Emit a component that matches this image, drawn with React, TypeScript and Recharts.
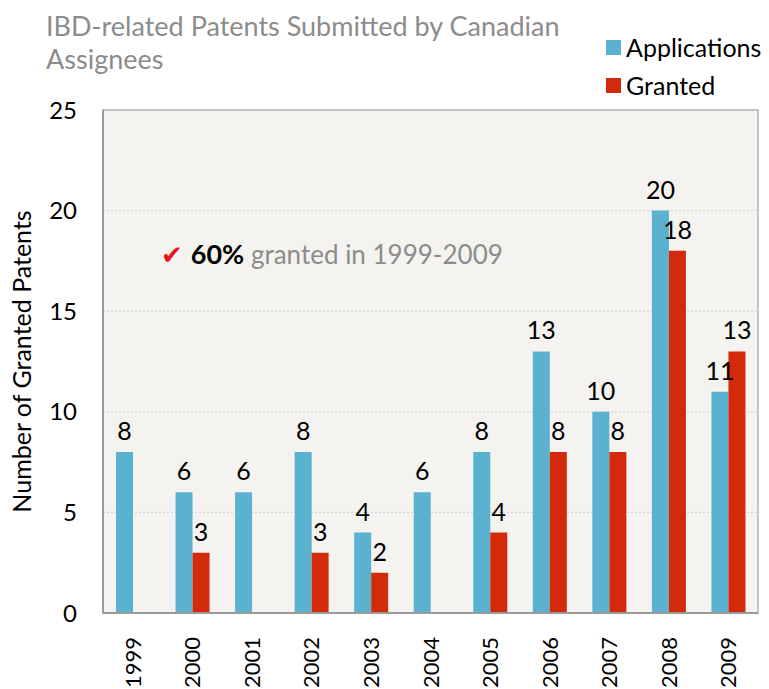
import { BarChart, Bar, XAxis, YAxis, CartesianGrid, LabelList, ReferenceArea, Label } from "recharts";

const years = ["1999", "2000", "2001", "2002", "2003", "2004", "2005", "2006", "2007", "2008", "2009"];
const applications = [8, 6, 6, 8, 4, 6, 8, 13, 10, 20, 11];
const granted = [0, 3, 0, 3, 2, 0, 4, 8, 8, 18, 13];
const yTicks = [0, 5, 10, 15, 20, 25];

const data = years.map((year, i) => ({ year, applications: applications[i], granted: granted[i] }));

const FONT = "Lato, 'DejaVu Sans', sans-serif";

const hideZero = (v: any) => (v === 0 ? "" : v);

const XTick = ({ x, y, payload }: any) => (
  <text x={x} y={y} transform={`rotate(-90, ${x}, ${y})`} textAnchor="end" dy={8} fontSize={22} fill="#000" fontFamily={FONT}>
    {payload.value}
  </text>
);

export default function App() {
  return (
    <div style={{ position: "absolute", left: 0, top: 0, width: 769, height: 689, background: "#fff", fontFamily: FONT }}>
      <div style={{ position: "absolute", left: 46, top: 9, width: 560, color: "#8c8c8c", fontSize: 27, lineHeight: "33px" }}>
        IBD-related Patents Submitted by Canadian Assignees
      </div>
      <div style={{ position: "absolute", left: 606, top: 28, fontSize: 25, lineHeight: "38px", color: "#000" }}>
        <div style={{ display: "flex", alignItems: "center" }}>
          <span style={{ display: "inline-block", width: 15, height: 15, background: "#5bb1d0", marginRight: 5 }} />
          Applications
        </div>
        <div style={{ display: "flex", alignItems: "center" }}>
          <span style={{ display: "inline-block", width: 15, height: 15, background: "#d42a0c", marginRight: 5 }} />
          Granted
        </div>
      </div>
      <BarChart
        width={769}
        height={689}
        data={data}
        margin={{ top: 110, right: 11, bottom: 0, left: 0 }}
        barSize={17}
        barGap={0}
      >
        <CartesianGrid vertical={false} stroke="#cfcfcf" strokeDasharray="2 2" fill="#f4f3ef" />
        <ReferenceArea y1={0} y2={25} fill="none" stroke="#b5b5b5" strokeWidth={1.5} />
        <XAxis
          dataKey="year"
          height={76}
          interval={0}
          tickLine={false}
          axisLine={{ stroke: "#9a9a9a", strokeWidth: 2 }}
          tick={<XTick />}
          tickMargin={18}
        />
        <YAxis
          width={103}
          domain={[0, 25]}
          ticks={yTicks}
          tickLine={false}
          axisLine={{ stroke: "#9a9a9a", strokeWidth: 2 }}
          tick={{ fontSize: 24, fill: "#000", fontFamily: FONT }}
          tickMargin={20}
        >
          <Label value="Number of Granted Patents" angle={-90} position="insideLeft" offset={22} style={{ fontSize: 25, fill: "#000", fontFamily: FONT, textAnchor: "middle" }} />
        </YAxis>
        <Bar dataKey="applications" fill="#5bb1d0" isAnimationActive={false}>
          <LabelList dataKey="applications" position="top" offset={12} formatter={hideZero} style={{ fontSize: 25, fill: "#000", fontFamily: FONT }} />
        </Bar>
        <Bar dataKey="granted" fill="#d42a0c" isAnimationActive={false}>
          <LabelList dataKey="granted" position="top" offset={12} formatter={hideZero} style={{ fontSize: 25, fill: "#000", fontFamily: FONT }} />
        </Bar>
      </BarChart>
      <div style={{ position: "absolute", left: 161, top: 237, fontSize: 26, color: "#8c8c8c", whiteSpace: "nowrap", zIndex: 2 }}>
        <span style={{ color: "#e8141b", marginRight: 8, fontSize: 26, fontFamily: "'DejaVu Sans', sans-serif" }}>✔</span>
        <b style={{ color: "#000", fontSize: 27 }}>60%</b> granted in 1999-2009
      </div>
    </div>
  );
}
